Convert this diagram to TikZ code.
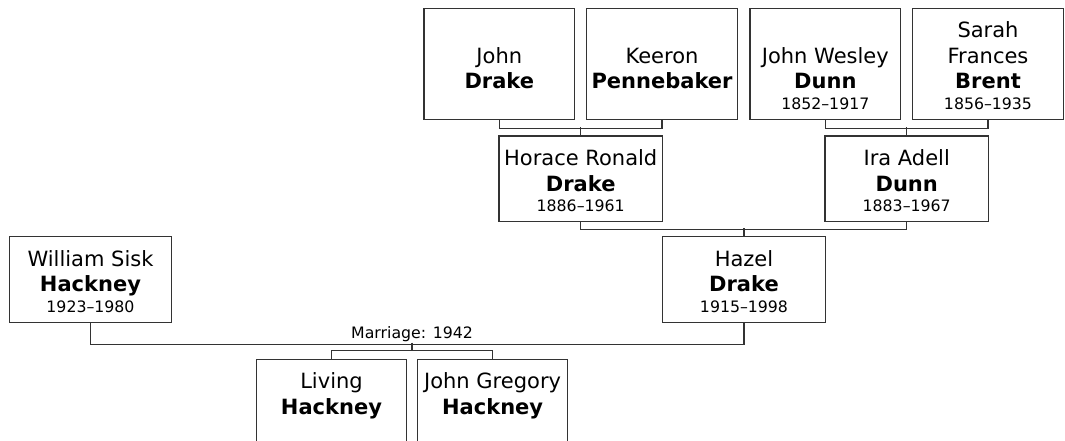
\documentclass[tikz,border=0pt]{standalone}
\usepackage{fontspec}
\setmainfont{DejaVu Sans}
\usetikzlibrary{calc}
\tikzset{
  pbox/.style={draw=black!80, line width=1.3pt, rectangle, inner sep=0pt, fill=white},
  conn/.style={draw=black!80, line width=1.3pt},
  given/.style={anchor=base, inner sep=0pt, font=\fontsize{21}{25}\selectfont},
  surname/.style={anchor=base, inner sep=0pt, font=\fontsize{21}{25}\selectfont\bfseries},
  dates/.style={anchor=base, inner sep=0pt, font=\fontsize{15.75}{19}\selectfont},
  lbl/.style={anchor=base, inner sep=0pt, font=\fontsize{15.75}{19}\selectfont},
}
\begin{document}
\begin{tikzpicture}[x=1pt, y=-1pt]
\useasboundingbox (0,0) rectangle (1065,441);
\fill[white] (0,0) rectangle (1065,441);
\clip (0,0) rectangle (1065,441);

% top row
\node[pbox, minimum width=150.5, minimum height=111.4] (jd) at (499.3,64) {};
\node[pbox, minimum width=150.5, minimum height=111.4] (kp) at (662,64) {};
\node[pbox, minimum width=150.5, minimum height=111.4] (jw) at (825.3,64) {};
\node[pbox, minimum width=150.5, minimum height=111.4] (sb) at (988,64) {};

\node[given]   (jd1) at (499.3,63.3) {John};
\node[surname] (jd2) at (499.3,88.8) {Drake};
\node[given]   (kp1) at (662,63.3) {Keeron};
\node[surname] (kp2) at (662,88.8) {Pennebaker};
\node[given]   (jw1) at (825.3,63.3) {John Wesley};
\node[surname] (jw2) at (825.3,88.8) {Dunn};
\node[dates]   (jw3) at (825.3,109.7) {1852–1917};
\node[given]   (sb0) at (988,37.3) {Sarah};
\node[given]   (sb1) at (988,63.3) {Frances};
\node[surname] (sb2) at (988,88.8) {Brent};
\node[dates]   (sb3) at (988,109.7) {1856–1935};

% second row
\node[pbox, minimum width=163.3, minimum height=85.5] (hr) at (580.7,178.75) {};
\node[pbox, minimum width=163.3, minimum height=85.5] (ia) at (906.7,178.75) {};
\node[given]   (hr1) at (580.7,165.5) {Horace Ronald};
\node[surname] (hr2) at (580.7,191) {Drake};
\node[dates]   (hr3) at (580.7,211.5) {1886–1961};
\node[given]   (ia1) at (906.7,165.5) {Ira Adell};
\node[surname] (ia2) at (906.7,191) {Dunn};
\node[dates]   (ia3) at (906.7,211.5) {1883–1967};

% third row
\node[pbox, minimum width=163.3, minimum height=85.8] (hz) at (744,279.6) {};
\node[pbox, minimum width=162, minimum height=85.8] (ws) at (90.5,279.6) {};
\node[given]   (hz1) at (744,266.2) {Hazel};
\node[surname] (hz2) at (744,291.7) {Drake};
\node[dates]   (hz3) at (744,312.2) {1915–1998};
\node[given]   (ws1) at (90.5,266.2) {William Sisk};
\node[surname] (ws2) at (90.5,291.7) {Hackney};
\node[dates]   (ws3) at (90.5,312.2) {1923–1980};

% children
\node[pbox, minimum width=150, minimum height=86] (lh) at (331.5,402.3) {};
\node[pbox, minimum width=150, minimum height=86] (jg) at (492.6,402.3) {};
\node[given]   (lh1) at (331.5,388.8) {Living};
\node[surname] (lh2) at (331.5,414.3) {Hackney};
\node[given]   (jg1) at (492.6,388.8) {John Gregory};
\node[surname] (jg2) at (492.6,414.3) {Hackney};

% connectors
\draw[conn] (jd.south) -- ++(0,8.5) -| (kp.south);
\draw[conn] (hr.north) -- ++(0,-8);
\draw[conn] (jw.south) -- ++(0,8.5) -| (sb.south);
\draw[conn] (ia.north) -- ++(0,-8);
\draw[conn] (hr.south) -- ++(0,7.5) -| (ia.south);
\draw[conn] (hz.north) -- ++(0,-7.7);
\draw[conn] (ws.south) -- ++(0,21) -| (hz.south);
\coordinate (mar) at ($(lh.north)!0.5!(jg.north) + (0,-16)$);
\draw[conn] (mar) -- ++(0,8);
\draw[conn] (lh.north) -- ++(0,-8) -| (jg.north);
\node[lbl] (ml) at ($(mar)+(0,-3.8)$) {Marriage: 1942};
\end{tikzpicture}
\end{document}
